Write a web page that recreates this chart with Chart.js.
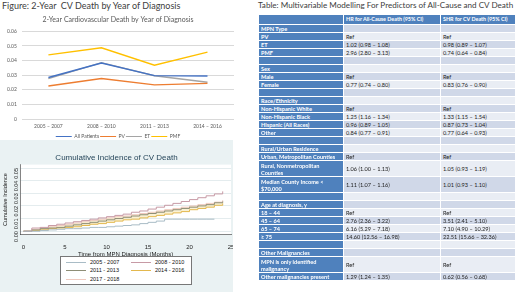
<!DOCTYPE html>
<html lang="en">
<head>
<meta charset="UTF-8">
<title>CV Death by Year of Diagnosis</title>
<style>
    body { margin: 0; width: 520px; height: 294px; background: #fff; position: relative; overflow: hidden; font-family: Lato, "Open Sans", sans-serif; }
    .ttl { position: absolute; font-size: 9px; color: #404040; white-space: nowrap; }
    #topChart { position: absolute; left: 0; top: 12px; }
    #bottomBox { position: absolute; left: 0; top: 140px; width: 233px; height: 152px; background: #EAF2F3; overflow: hidden; }
    #kmChart { position: absolute; left: 0; top: -1px; }
    #kmLegend { position: absolute; left: 60px; top: 116px; width: 130px; height: 27px; border: 1px solid #777; background: #fff;
        font-family: "Liberation Sans", Arial, sans-serif; font-size: 5.5px; color: #111; }
    .lg { position: absolute; white-space: nowrap; }
    .lg span { display: inline-block; width: 20px; height: 0; border-top: 1.2px solid; vertical-align: middle; margin-right: 4px; }
    #tbl { position: absolute; left: 258px; top: 14px; width: 257px; border-collapse: collapse; table-layout: fixed; font-size: 5.6px; line-height: 7px; }
    #tbl td { border: 1px solid #fff; padding: 0 2px; vertical-align: middle; color: #222; overflow: hidden; white-space: nowrap; }
    #tbl tr.hd td { background: #4F81BD; color: #fff; font-weight: bold; font-size: 5.4px; }
    #tbl tr.a td { background: #D0D8E8; }
    #tbl tr.b td { background: #E9EDF4; }
    #tbl tr td.c1 { background: #4F81BD !important; color: #fff; font-weight: bold; white-space: normal; }
</style>
</head>
<body>

<div class="ttl" style="left:2px;top:0px;">Figure: 2-Year&nbsp; CV Death by Year of Diagnosis</div>
<div class="ttl" style="left:258px;top:0px;font-size:8.1px;">Table: Multivariable Modelling For Predictors of All-Cause and CV Death</div>

<canvas id="topChart" width="240" height="137"></canvas>

<div id="bottomBox">
    <canvas id="kmChart" width="240" height="119"></canvas>
    <div id="kmLegend"></div>
</div>

<table id="tbl"></table>

<script src="https://cdn.jsdelivr.net/npm/chart.js"></script>
<script>
    // top chart data
    const periods = ['2005 – 2007', '2008 – 2010', '2011 – 2013', '2014 – 2016'];
    const allPatients = [0.0284, 0.0383, 0.0297, 0.0295];
    const pvDeath = [0.0226, 0.0277, 0.0234, 0.0244];
    const etDeath = [0.0276, 0.0386, 0.0296, 0.0252];
    const pmfDeath = [0.0439, 0.0488, 0.0368, 0.0458];

    // cumulative incidence (months 0..24)
    const months = [0, 1, 2, 3, 4, 5, 6, 7, 8, 9, 10, 11, 12, 13, 14, 15, 16, 17, 18, 19, 20, 21, 22, 23, 24];
    const ci2005 = [0, 0, 0.0005, 0.001, 0.0015, 0.002, 0.002, 0.0025, 0.003, 0.003, 0.0035, 0.004, 0.0045, 0.005, 0.006, 0.007, 0.008, 0.0095, 0.0095, 0.0095, 0.0095, 0.0095, 0.0095, 0.0095];
    const ci2008 = [0, 0.0025, 0.003, 0.0045, 0.0055, 0.0065, 0.0075, 0.0085, 0.0095, 0.0105, 0.0115, 0.0125, 0.0135, 0.015, 0.016, 0.0175, 0.019, 0.0205, 0.022, 0.0235, 0.025, 0.0265, 0.028, 0.0295, 0.0315];
    const ci2011 = [0, 0.001, 0.002, 0.0025, 0.003, 0.004, 0.005, 0.006, 0.007, 0.008, 0.009, 0.010, 0.011, 0.012, 0.013, 0.014, 0.015, 0.016, 0.017, 0.018, 0.019, 0.020, 0.021, 0.0225, 0.0235];
    const ci2014 = [0, 0.0005, 0.001, 0.002, 0.0025, 0.003, 0.0035, 0.0045, 0.0055, 0.006, 0.007, 0.008, 0.009, 0.0095, 0.0105, 0.0115, 0.0125, 0.0135, 0.0145, 0.0155, 0.017, 0.018, 0.019, 0.0205, 0.022];
    const ci2017 = [0, 0.0015, 0.0025, 0.0035, 0.0045, 0.0055, 0.0065, 0.0075, 0.0085, 0.0095, 0.0105, 0.0115, 0.012, 0.013, 0.014, 0.015, 0.016, 0.017, 0.018, 0.019, 0.020, 0.021, 0.022, 0.023, 0.0245];
    const kmLabels = ['2005 - 2007', '2008 - 2010', '2011 - 2013', '2014 - 2016', '2017 - 2018'];
    const kmColors = ['#A9BCC6', '#C79AA5', '#8E8E76', '#E3B84E', '#EFC9BE'];

    // table
    const rowLabels = ['MPN Type', 'PV', 'ET', 'PMF', '', 'Sex', 'Male', 'Female', '',
        'Race/Ethnicity', 'Non-Hispanic White', 'Non-Hispanic Black', 'Hispanic (All Races)', 'Other', '',
        'Rural/Urban Residence', 'Urban, Metropolitan Counties', 'Rural, Nonmetropolitan Counties', 'Median County Income < $70,000', '',
        'Age at diagnosis, y', '18 – 44', '45 – 64', '65 – 74', '≥ 75', '',
        'Other  Malignancies', 'MPN is only identified malignancy', 'Other malignancies present'];
    const hrAllCause = ['', 'Ref', '1.02 (0.98 – 1.08)', '2.96 (2.80 – 3.13)', '', '', 'Ref', '0.77 (0.74 – 0.80)', '',
        '', 'Ref', '1.25 (1.16 – 1.34)', '0.96 (0.89 – 1.05)', '0.84 (0.77 – 0.91)', '',
        '', 'Ref', '1.06 (1.00 – 1.13)', '1.11 (1.07 – 1.16)', '',
        '', 'Ref', '2.76 (2.36 – 3.22)', '6.16 (5.29 – 7.18)', '14.60 (12.56 – 16.98)', '',
        '', 'Ref', '1.29 (1.24 – 1.35)'];
    const shrCV = ['', 'Ref', '0.98 (0.89 – 1.07)', '0.74 (0.64 – 0.84)', '', '', 'Ref', '0.83 (0.76 – 0.90)', '',
        '', 'Ref', '1.33 (1.15 – 1.54)', '0.87 (0.73 – 1.04)', '0.77 (0.64 – 0.93)', '',
        '', 'Ref', '1.05 (0.93 – 1.19)', '1.01 (0.93 – 1.10)', '',
        '', 'Ref', '3.51 (2.41 – 5.10)', '7.10 (4.90 – 10.29)', '22.51 (15.66 – 32.36)', '',
        '', 'Ref', '0.62 (0.56 – 0.68)'];
    const twoLineRows = [17, 18, 27];

    // build the table
    let html = '<colgroup><col style="width:85px"><col style="width:97px"><col style="width:75px"></colgroup>';
    html += '<tr class="hd" style="height:10px"><td></td><td>HR for All-Cause Death (95% CI)</td><td>SHR for CV Death (95% CI)</td></tr>';
    rowLabels.forEach((lab, i) => {
        const h = twoLineRows.includes(i) ? 16 : 8;
        html += `<tr class="${i % 2 === 0 ? 'a' : 'b'}" style="height:${h}px"><td class="c1">${lab}</td><td>${hrAllCause[i]}</td><td>${shrCV[i]}</td></tr>`;
    });
    document.getElementById('tbl').innerHTML = html;

    // top line chart
    const fam = 'Lato, "Open Sans", sans-serif';
    new Chart(document.getElementById('topChart'), {
        type: 'line',
        data: {
            labels: periods,
            datasets: [
                { label: 'All Patients', data: allPatients, borderColor: '#4472C4', backgroundColor: '#4472C4' },
                { label: 'PV', data: pvDeath, borderColor: '#ED7D31', backgroundColor: '#ED7D31' },
                { label: 'ET', data: etDeath, borderColor: '#A5A5A5', backgroundColor: '#A5A5A5' },
                { label: 'PMF', data: pmfDeath, borderColor: '#FFC000', backgroundColor: '#FFC000' }
            ]
        },
        options: {
            responsive: false,
            animation: false,
            layout: { padding: { left: 2, right: 6, top: 0, bottom: 0 } },
            elements: { point: { radius: 0 }, line: { borderWidth: 1.4, tension: 0 } },
            plugins: {
                title: { display: true, text: '2-Year Cardiovascular Death by Year of Diagnosis', color: '#595959',
                    font: { size: 7, family: fam, weight: 'normal' }, padding: { top: 4, bottom: 7 } },
                legend: { position: 'bottom', labels: { usePointStyle: true, pointStyle: 'line', pointStyleWidth: 16,
                    boxHeight: 4, padding: 1, color: '#595959', font: { size: 5, family: fam } } },
                tooltip: { enabled: false }
            },
            scales: {
                x: { offset: true, grid: { display: false, drawTicks: false }, border: { display: false },
                    ticks: { color: '#595959', font: { size: 5, family: fam }, maxRotation: 0, padding: 4 } },
                y: { min: 0, max: 0.06, border: { display: false }, grid: { color: '#D9D9D9', drawTicks: false },
                    ticks: { stepSize: 0.01, color: '#595959', font: { size: 5, family: fam }, padding: 5,
                        callback: v => v === 0 ? '0' : v.toFixed(2) } }
            }
        }
    });

    // white plot region like stata
    const plotBg = {
        id: 'plotBg',
        beforeDraw(chart) {
            const a = chart.chartArea, c = chart.ctx;
            c.save();
            c.fillStyle = '#fff';
            c.fillRect(a.left, a.top, a.right - a.left, a.bottom - a.top);
            c.restore();
        }
    };

    const kmSets = [ci2005, ci2008, ci2011, ci2014, ci2017].map((arr, k) => ({
        label: kmLabels[k],
        data: arr.map((v, i) => ({ x: months[i], y: v })),
        borderColor: kmColors[k],
        backgroundColor: kmColors[k],
        borderWidth: 1,
        stepped: true,
        fill: false
    }));
    kmSets[4].fill = 3;
    kmSets[4].backgroundColor = 'rgba(248,236,196,0.75)';

    const ax = '"Liberation Sans", Arial, sans-serif';
    new Chart(document.getElementById('kmChart'), {
        type: 'line',
        data: { datasets: kmSets },
        plugins: [plotBg],
        options: {
            responsive: false,
            animation: false,
            layout: { padding: { left: 2, right: 9, top: 0, bottom: 0 } },
            elements: { point: { radius: 0 } },
            plugins: {
                legend: { display: false },
                tooltip: { enabled: false },
                title: { display: true, text: 'Cumulative Incidence of CV Death', color: '#1E3F54',
                    font: { size: 8, family: ax, weight: 'normal' }, padding: { top: 14, bottom: 2 } },
                filler: { propagate: false }
            },
            scales: {
                x: { type: 'linear', min: -0.4, max: 25, grid: { display: false },
                    border: { display: true, color: '#333', width: 0.6 },
                    afterBuildTicks: s => { s.ticks = [0, 5, 10, 15, 20, 25].map(v => ({ value: v })); },
                    ticks: { color: '#222', font: { size: 6, family: ax }, padding: 1, maxRotation: 0 },
                    title: { display: true, text: 'Time from MPN Diagnosis (Months)', color: '#222',
                        font: { size: 6, family: ax }, padding: { top: -1, bottom: 0 } } },
                y: { min: -0.0027, max: 0.0527, grid: { color: '#E4ECEE', tickLength: 3 },
                    border: { display: true, color: '#333', width: 0.6 },
                    afterBuildTicks: s => { s.ticks = [0, 0.01, 0.02, 0.03, 0.04, 0.05].map(v => ({ value: v })); },
                    ticks: { color: '#222', font: { size: 5.5, family: ax }, minRotation: 90, maxRotation: 90, padding: 1,
                        callback: v => v.toFixed(2) },
                    title: { display: true, text: 'Cumulative Incidence', color: '#222',
                        font: { size: 5.5, family: ax }, padding: 0 } }
            }
        }
    });

    // legend box for the stata chart
    const lg = document.getElementById('kmLegend');
    const spots = [[5, 1.5], [70, 1.5], [5, 10], [70, 10], [5, 18.5]];
    kmLabels.forEach((lab, k) => {
        const d = document.createElement('div');
        d.className = 'lg';
        d.style.left = spots[k][0] + 'px';
        d.style.top = spots[k][1] + 'px';
        d.innerHTML = `<span style="border-color:${kmColors[k]}"></span>${lab}`;
        lg.appendChild(d);
    });
</script>
</body>
</html>
